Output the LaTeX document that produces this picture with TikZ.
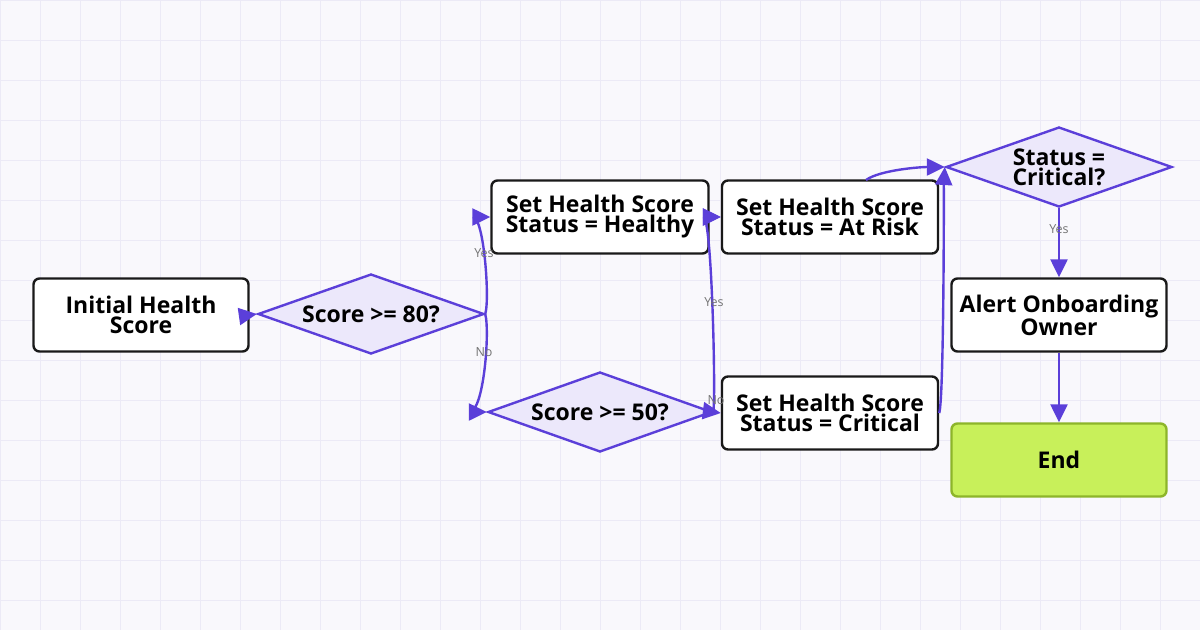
\documentclass[tikz,border=0pt]{standalone}
\usepackage{fontspec}
\setmainfont{Open Sans}
\usetikzlibrary{shapes.geometric,arrows.meta}
\definecolor{edge}{HTML}{5B3FD9}
\definecolor{dfill}{HTML}{ECE8FB}
\definecolor{grid}{HTML}{ECEAF6}
\definecolor{bg}{HTML}{F9F8FC}
\definecolor{endfill}{HTML}{C8F05A}
\definecolor{enddraw}{HTML}{8DB52A}
\tikzset{
  box/.style={draw=black!90, line width=2.4pt, rounded corners=6pt, fill=white, minimum width=215pt, minimum height=73pt, align=center, font=\bfseries\fontsize{23}{20}\selectfont, inner sep=0pt},
  dia/.style={draw=edge, line width=2.4pt, fill=dfill, diamond, aspect=2.85, minimum width=226pt, minimum height=80pt, align=center, font=\bfseries\fontsize{23}{20}\selectfont, inner sep=0pt},
  arr/.style={draw=edge, line width=2.4pt, -{Triangle[length=18pt,width=17pt]}},
  lbl/.style={text=black!55, font=\fontsize{12.5}{12}\selectfont, inner sep=1pt}
}
\begin{document}
\begin{tikzpicture}[x=1pt,y=-1pt]
\useasboundingbox (0,0) rectangle (1200,630);
\fill[bg] (0,0) rectangle (1200,630);
\foreach \x in {0,40,...,1200} \draw[grid,line width=1pt] (\x,0) -- (\x,630);
\foreach \y in {0,40,...,600} \draw[grid,line width=1pt] (0,\y) -- (1200,\y);

\node[box] (init) at (141,315) {Initial Health\\Score};
\node[dia] (d1) at (371,314) {Score >= 80?};
\node[box, minimum width=217pt] (healthy) at (600,217) {Set Health Score\\Status = Healthy};
\node[dia, minimum width=224pt] (d2) at (600,412) {Score >= 50?};
\node[box, minimum width=216pt] (risk) at (830,217) {Set Health Score\\Status = At Risk};
\node[box, minimum width=216pt] (crit) at (830,413) {Set Health Score\\Status = Critical};
\node[dia] (d3) at (1059,167) {Status =\\Critical?};
\node[box] (alert) at (1059,315) {Alert Onboarding\\Owner};
\node[box, draw=enddraw, fill=endfill] (end) at (1059,460) {End};

\draw[arr] (init.east) -- (d1.west);
\draw[arr] (d1.east) .. controls (490,300) and (484,217) .. (healthy.west);
\node[lbl] at (484,253) {Yes};
\draw[arr] (d1.east) .. controls (490,330) and (484,412) .. (d2.west);
\node[lbl] at (484,352) {No};
\draw[arr] (healthy.east) -- (risk.west);
\draw[arr] (d2.east) .. controls (716,400) and (712,217) .. (risk.west);
\node[lbl] at (714,302) {Yes};
\draw[arr] (d2.east) -- (crit.west);
\node[lbl] at (716,400) {No};
\coordinate (rt) at (866,180);
\draw[arr] (rt) .. controls (880,170) and (920,167) .. (d3.west);
\draw[arr] (crit.east) .. controls (944,400) and (944,180) .. (d3.west);
\draw[arr] (d3.south) -- (alert.north) node[lbl,pos=0.3] {Yes};
\draw[arr] (alert.south) -- (end.north);
\end{tikzpicture}
\end{document}
